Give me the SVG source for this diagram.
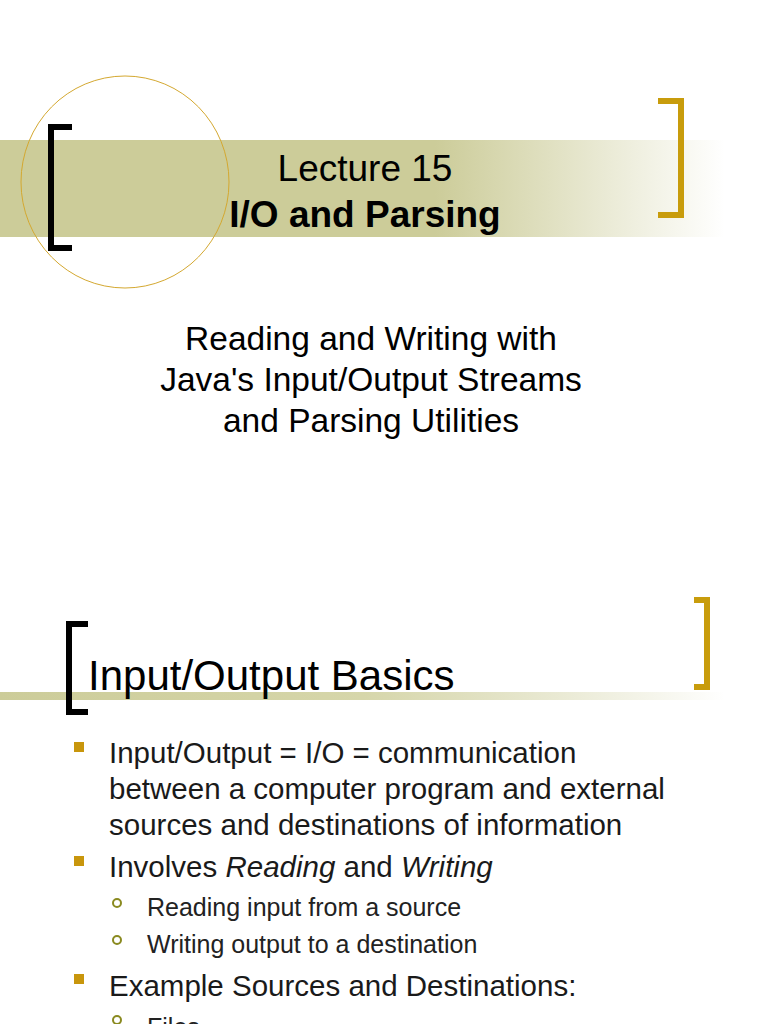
<svg xmlns="http://www.w3.org/2000/svg" width="768" height="1024" viewBox="0 0 768 1024">
<style>
text{font-family:"Liberation Sans",Arial,sans-serif;fill:#000}
.c{text-anchor:middle}
.b{font-size:29.5px;fill:#1a1a1a}
.s{font-size:25px;fill:#222}
</style>
<defs>
<linearGradient id="g1" x1="0" x2="1"><stop offset="0" stop-color="#cccc99"/><stop offset="0.6" stop-color="#cccc99"/><stop offset="1" stop-color="#cccc99" stop-opacity="0"/></linearGradient>
<linearGradient id="g2" x1="0" x2="1"><stop offset="0" stop-color="#cccc99"/><stop offset="0.5" stop-color="#d6d6aa"/><stop offset="1" stop-color="#cccc99" stop-opacity="0"/></linearGradient>
</defs>
<rect width="768" height="1024" fill="#fff"/>
<rect x="0" y="140" width="725" height="97" fill="url(#g1)"/>
<ellipse cx="125" cy="182" rx="104" ry="106" fill="none" stroke="#d4a830" stroke-width="1"/>
<path d="M72 127H51V248H72" fill="none" stroke="#000" stroke-width="6"/>
<path d="M658 101H681V215H658" fill="none" stroke="#c89c0c" stroke-width="6"/>
<text x="365" y="181" class="c" font-size="37">Lecture 15</text>
<text x="365" y="227" class="c" font-size="37" font-weight="bold">I/O and Parsing</text>
<text x="371" y="350" class="c" font-size="33.5">Reading and Writing with</text>
<text x="371" y="391" class="c" font-size="33.5">Java's Input/Output Streams</text>
<text x="371" y="432" class="c" font-size="33.5">and Parsing Utilities</text>
<rect x="0" y="692" width="725" height="8" fill="url(#g2)"/>
<path d="M88 624H69V712H88" fill="none" stroke="#000" stroke-width="6"/>
<path d="M694 600H707V687H694" fill="none" stroke="#c89c0c" stroke-width="6"/>
<text x="88" y="690" font-size="42">Input/Output Basics</text>
<g fill="#c8960c">
<rect x="74" y="742" width="10" height="10"/>
<rect x="74" y="856" width="10" height="10"/>
<rect x="74" y="974" width="10" height="10"/>
</g>
<g fill="none" stroke="#8a8a20" stroke-width="2">
<circle cx="117" cy="903" r="4"/>
<circle cx="117" cy="940" r="4"/>
<circle cx="117" cy="1020" r="4"/>
</g>
<text x="109" y="763" class="b">Input/Output = I/O = communication</text>
<text x="109" y="799" class="b">between a computer program and external</text>
<text x="109" y="835" class="b">sources and destinations of information</text>
<text x="109" y="877" class="b">Involves <tspan font-style="italic">Reading</tspan> and <tspan font-style="italic">Writing</tspan></text>
<text x="147" y="916" class="s">Reading input from a source</text>
<text x="147" y="953" class="s">Writing output to a destination</text>
<text x="109" y="996" class="b">Example Sources and Destinations:</text>
<text x="147" y="1036" class="s">Files</text>
</svg>
